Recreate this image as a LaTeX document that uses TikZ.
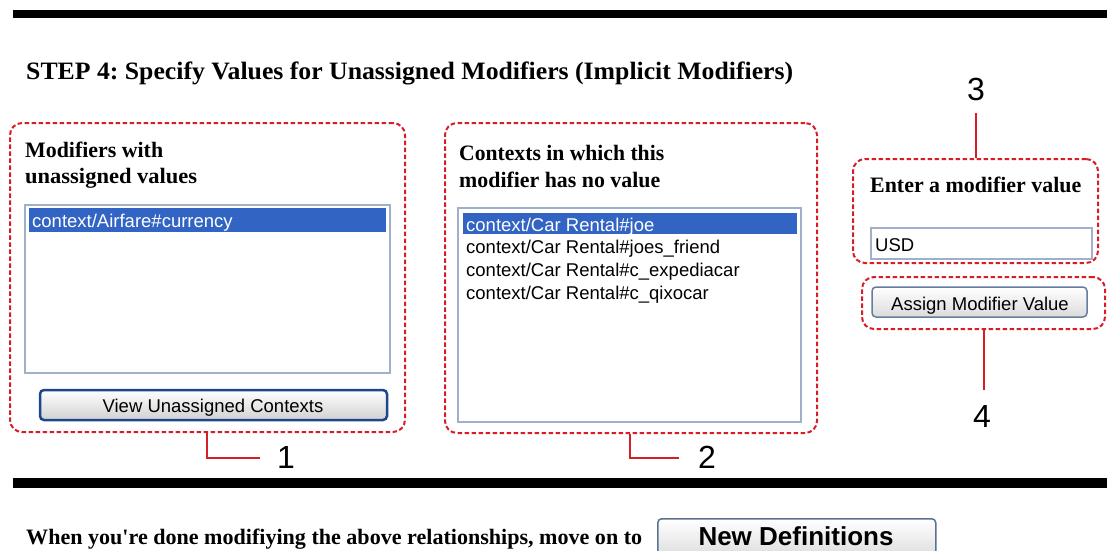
\documentclass[tikz,border=0pt]{standalone}
\usepackage{fontspec}
\usepackage{graphicx}
\setmainfont{Liberation Serif}
\newfontfamily\arialf{Liberation Sans}
\frenchspacing
\definecolor{hlred}{RGB}{214,30,40}
\definecolor{selblue}{RGB}{50,100,196}
\definecolor{lbborder}{RGB}{160,176,200}
\definecolor{btnblue}{RGB}{30,70,140}
\definecolor{btngray}{RGB}{100,125,160}
\newcommand{\fitw}[2]{\resizebox{#1}{\height}{#2}}
\tikzset{
  redbox/.style={draw=hlred, line width=2pt, dash pattern=on 4.5pt off 2.5pt, rounded corners=12pt, inner sep=0pt, rectangle},
  redline/.style={draw=hlred, line width=2pt},
  listbox/.style={draw=lbborder, line width=1.5pt, fill=white, inner sep=0pt, rectangle},
  selrow/.style={fill=selblue, inner sep=0pt, rectangle},
  serifhead/.style={anchor=base west, inner sep=0pt, font=\fontsize{22}{24}\selectfont\bfseries},
  listtext/.style={anchor=base west, inner sep=0pt, font=\arialf\fontsize{18.5}{22}\selectfont},
  btntext/.style={anchor=base, inner sep=0pt, font=\arialf\fontsize{18.5}{22}\selectfont},
  bigbtn/.style={draw=btnblue, line width=2.5pt, rounded corners=4pt, top color=white, bottom color=black!18, inner sep=0pt, rectangle},
  smallbtn/.style={draw=btngray, line width=1.5pt, rounded corners=4pt, top color=white, bottom color=black!14, inner sep=0pt, rectangle},
  digit/.style={anchor=base, inner sep=0pt, font=\arialf\fontsize{32}{34}\selectfont},
}
\begin{document}
\begin{tikzpicture}[x=1pt,y=-1pt]
\useasboundingbox (0,0) rectangle (1107,550);
% thick rules
\fill[black] (13,10) rectangle (1107,18);
\fill[black] (13,478) rectangle (1107,488);
% title
\node[anchor=base west, inner sep=0pt] (title) at (26,79)
  {\fitw{767pt}{\fontsize{25}{28}\selectfont\bfseries STEP 4: Specify Values for Unassigned Modifiers (Implicit Modifiers)}};

% ---------- group 1 ----------
\node[redbox, minimum width=395pt, minimum height=309pt] (g1) at (207.5,277.5) {};
\node[serifhead] (h1a) at (25,157) {\fitw{138pt}{Modifiers with}};
\node[serifhead] (h1b) at (25,183) {\fitw{172pt}{unassigned values}};
\node[listbox, minimum width=365pt, minimum height=168pt] (lb1) at (207.5,289) {};
\node[selrow, minimum width=357pt, minimum height=24pt] (s1) at (207.5,220) {};
\node[listtext, text=white] (t1) at (32,227) {context/Airfare\#currency};
\node[bigbtn, minimum width=347pt, minimum height=30pt] (b1) at (213.5,405) {};
\node[btntext] (b1t) at (213,412) {View Unassigned Contexts};

% ---------- group 2 ----------
\node[redbox, minimum width=372pt, minimum height=310pt] (g2) at (631,278) {};
\node[serifhead] (h2a) at (459,160) {\fitw{205pt}{Contexts in which this}};
\node[serifhead] (h2b) at (459,187) {\fitw{201pt}{modifier has no value}};
\node[listbox, minimum width=343pt, minimum height=214pt] (lb2) at (629.5,315) {};
\node[selrow, minimum width=334pt, minimum height=21pt] (s2) at (630,223.5) {};
\node[listtext, text=white] (t2a) at (466,231) {context/Car Rental\#joe};
\node[listtext] (t2b) at (466,253.5) {context/Car Rental\#joes\_friend};
\node[listtext] (t2c) at (466,276.5) {context/Car Rental\#c\_expediacar};
\node[listtext] (t2d) at (466,299) {context/Car Rental\#c\_qixocar};

% ---------- group 3 ----------
\node[redbox, minimum width=245pt, minimum height=104pt] (g3) at (975.5,211) {};
\node[serifhead] (h3) at (870,192) {\fitw{211pt}{Enter a modifier value}};
\node[listbox, minimum width=221pt, minimum height=31pt] (tf) at (981.5,243.5) {};
\node[listtext] (usd) at (875,251) {USD};

% ---------- group 4 ----------
\node[redbox, minimum width=243pt, minimum height=52pt] (g4) at (983.5,303) {};
\node[smallbtn, minimum width=215pt, minimum height=30pt] (b4) at (979.5,302) {};
\node[btntext] (b4t) at (980,310) {Assign Modifier Value};

% ---------- callouts ----------
\node[digit] (n1) at (286,468) {1};
\node[digit] (n2) at (707,468) {2};
\node[digit] (n3) at (976,100) {3};
\node[digit] (n4) at (982,427) {4};
\coordinate (e1) at (260,458);
\coordinate (e2) at (679,458);
\coordinate (e3) at (975.5,113);
\coordinate (e4) at (983.5,390);
\draw[redline] ([xshift=-0.5pt]g1.south) |- (e1);
\draw[redline] ([xshift=-1pt]g2.south) |- (e2);
\draw[redline] (g3.north) -- (e3);
\draw[redline] (g4.south) -- (e4);

% ---------- bottom ----------
\node[anchor=base west, inner sep=0pt] (foot) at (26,544)
  {\fitw{616pt}{\fontsize{22}{24}\selectfont\bfseries When you\textquotesingle re done modifiying the above relationships, move on to}};
\node[smallbtn, draw=btngray!90!black, minimum width=278pt, minimum height=40pt, anchor=north west] (nd) at (657,518) {};
\node[anchor=base, inner sep=0pt, font=\arialf\fontsize{26}{28}\selectfont\bfseries] (ndt) at (796,545) {New Definitions};
\end{tikzpicture}
\end{document}
